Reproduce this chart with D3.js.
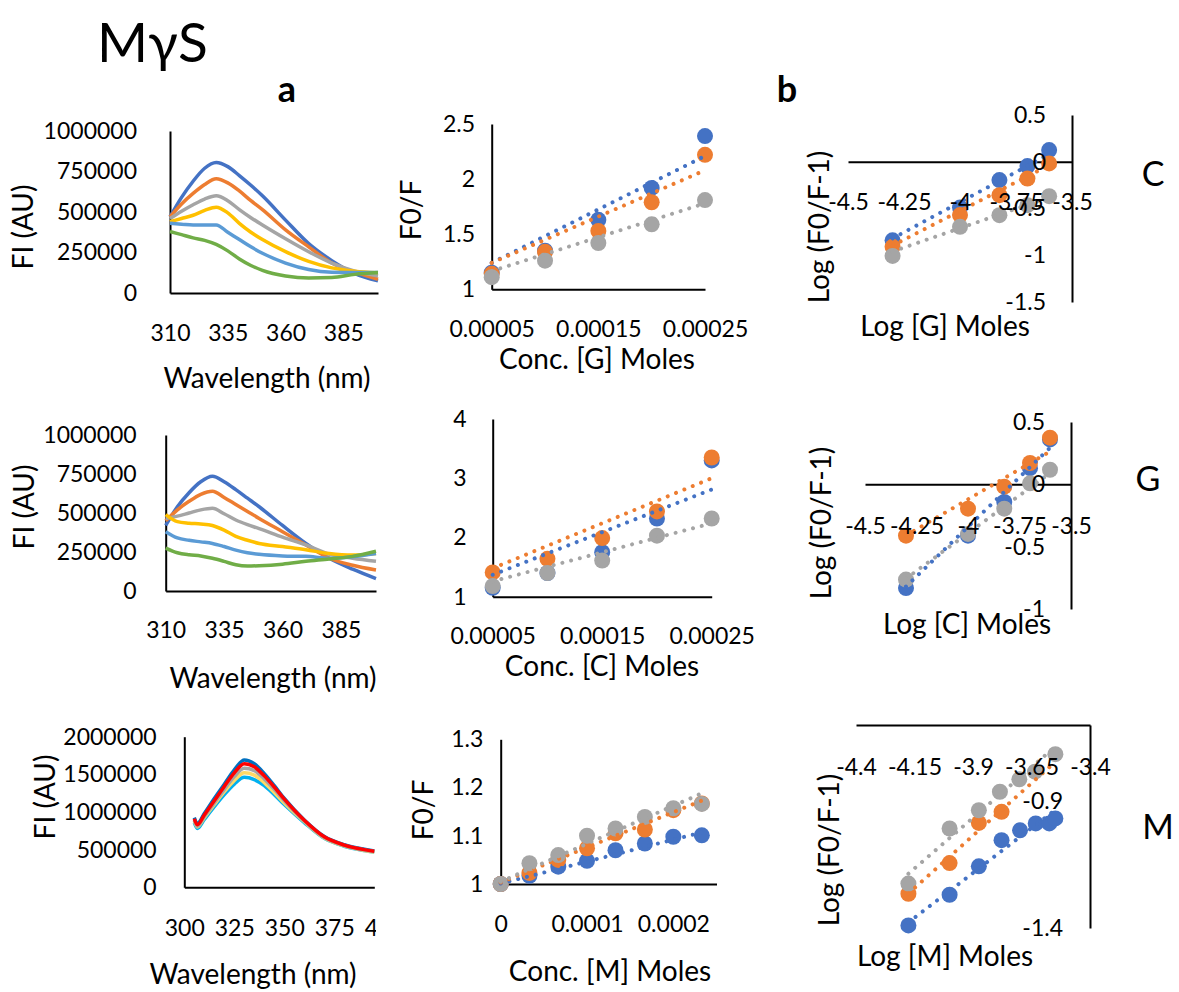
<!DOCTYPE html>
<html>
<head>
<meta charset="utf-8">
<script src="https://cdnjs.cloudflare.com/ajax/libs/d3/7.8.5/d3.min.js"></script>
<style>
body { margin: 0; background: #fff; }
svg text { font-family: Lato, "Noto Sans", sans-serif; fill: #000; }
.axis path { stroke: #000; stroke-width: 2; }
.axis text { font-size: 23px; font-family: Lato, "Noto Sans", sans-serif; }
.title { font-size: 28px; }
.trend { fill: none; stroke-width: 4; stroke-linecap: round; stroke-dasharray: 0.01 9; }
</style>
</head>
<body>
<script>
// spectra, G titration
var waveG = [310, 315, 320, 325, 330, 335, 340, 345, 350, 360, 370, 380, 390, 400];
var fiG1 = [470000, 590000, 690000, 770000, 805000, 780000, 725000, 665000, 600000, 450000, 305000, 200000, 120000, 75000];
var fiG2 = [470000, 550000, 615000, 670000, 705000, 680000, 630000, 570000, 515000, 390000, 285000, 185000, 130000, 85000];
var fiG3 = [460000, 505000, 545000, 580000, 600000, 570000, 515000, 465000, 420000, 335000, 255000, 185000, 135000, 105000];
var fiG4 = [440000, 460000, 480000, 510000, 530000, 495000, 430000, 375000, 330000, 255000, 195000, 155000, 135000, 125000];
var fiG5 = [430000, 425000, 420000, 420000, 420000, 375000, 330000, 285000, 245000, 185000, 145000, 128000, 126000, 126000];
var fiG6 = [380000, 360000, 340000, 325000, 300000, 260000, 210000, 170000, 140000, 105000, 92000, 95000, 115000, 126000];

// spectra, C titration
var waveC = [310, 315, 320, 325, 330, 335, 340, 345, 350, 360, 370, 380, 390, 400];
var fiC1 = [420000, 540000, 630000, 700000, 735000, 700000, 650000, 595000, 540000, 420000, 305000, 210000, 140000, 80000];
var fiC2 = [450000, 520000, 575000, 620000, 640000, 600000, 555000, 510000, 465000, 380000, 295000, 210000, 165000, 135000];
var fiC3 = [465000, 480000, 500000, 520000, 530000, 495000, 455000, 425000, 400000, 345000, 295000, 235000, 210000, 190000];
var fiC4 = [490000, 445000, 435000, 430000, 420000, 390000, 350000, 325000, 305000, 285000, 265000, 240000, 230000, 240000];
var fiC5 = [380000, 340000, 325000, 315000, 305000, 285000, 262000, 245000, 235000, 225000, 222000, 210000, 220000, 240000];
var fiC6 = [275000, 245000, 232000, 225000, 210000, 190000, 168000, 160000, 162000, 172000, 190000, 205000, 222000, 255000];

// spectra, M titration
var waveM = [305, 306.5, 310, 315, 320, 325, 330, 335, 340, 345, 350, 360, 370, 380, 390, 395];
var fiM1 = [925000, 845000, 980000, 1180000, 1370000, 1560000, 1690000, 1640000, 1510000, 1350000, 1180000, 895000, 675000, 565000, 505000, 482000];
var fiM2 = [860000, 780000, 900000, 1070000, 1230000, 1370000, 1460000, 1430000, 1350000, 1230000, 1100000, 860000, 650000, 545000, 488000, 468000];
var fiM3 = [880000, 800000, 925000, 1100000, 1270000, 1420000, 1520000, 1490000, 1390000, 1260000, 1120000, 870000, 655000, 550000, 490000, 470000];
var fiM4 = [890000, 810000, 940000, 1120000, 1300000, 1470000, 1580000, 1550000, 1440000, 1300000, 1150000, 880000, 660000, 555000, 495000, 475000];
var fiM5 = [910000, 830000, 960000, 1150000, 1340000, 1520000, 1640000, 1600000, 1480000, 1330000, 1170000, 890000, 670000, 560000, 500000, 480000];

// Stern-Volmer, G and C
var concGC = [0.00005, 0.0001, 0.00015, 0.0002, 0.00025];
var f0fG1 = [1.15, 1.35, 1.63, 1.92, 2.39];
var f0fG2 = [1.14, 1.34, 1.53, 1.79, 2.22];
var f0fG3 = [1.11, 1.26, 1.42, 1.59, 1.81];
var trendG = [[1.24, 2.21], [1.24, 2.08], [1.165, 1.78]];
var f0fC1 = [1.15, 1.40, 1.75, 2.32, 3.30];
var f0fC2 = [1.41, 1.64, 1.99, 2.44, 3.35];
var f0fC3 = [1.18, 1.40, 1.61, 2.03, 2.32];
var trendC = [[1.37, 2.81], [1.48, 3.0], [1.26, 2.24]];

// Stern-Volmer, M
var concM = [0, 0.0000333, 0.0000667, 0.0001, 0.000133, 0.000167, 0.0002, 0.000233];
var f0fM1 = [1.0, 1.017, 1.036, 1.048, 1.070, 1.084, 1.098, 1.101];
var f0fM2 = [1.0, 1.023, 1.05, 1.074, 1.105, 1.113, 1.153, 1.167];
var f0fM3 = [1.0, 1.043, 1.06, 1.10, 1.115, 1.139, 1.157, 1.166];
var trendM = [[1.001, 1.107], [1.003, 1.173], [1.005, 1.188]];

// double log, G and C
var logGC = [-4.301, -4, -3.824, -3.699, -3.602];
var logG1 = [-0.84, -0.49, -0.196, -0.046, 0.125];
var logG2 = [-0.91, -0.57, -0.357, -0.18, -0.018];
var logG3 = [-1.007, -0.696, -0.571, -0.464, -0.368];
var logTrendG = [[-0.82, 0.08], [-0.896, -0.036], [-0.96, -0.38]];
var logC1 = [-0.832, -0.412, -0.141, 0.13, 0.36];
var logC2 = [-0.412, -0.195, -0.019, 0.171, 0.374];
var logC3 = [-0.764, -0.398, -0.195, 0.008, 0.117];
var logTrendC = [[-0.82, 0.293], [-0.41, 0.263], [-0.756, 0.09]];

// double log, M
var logMx1 = [-4.176, -4.0, -3.875, -3.778, -3.699, -3.632, -3.574, -3.548];
var logM1 = [-1.39, -1.269, -1.157, -1.054, -1.015, -0.988, -0.988, -0.968];
var logMx2 = [-4.176, -4.0, -3.875, -3.778];
var logM2 = [-1.265, -1.144, -0.986, -0.942];
var logMx3 = [-4.176, -4.0, -3.875, -3.785, -3.702, -3.635, -3.548];
var logM3 = [-1.225, -1.008, -0.936, -0.863, -0.814, -0.784, -0.715];
var logTrendMx = [-4.176, -3.548];
var logTrendM = [[-1.378, -0.934], [-1.264, -0.745], [-1.186, -0.685]];

var colors6 = ["#4472C4", "#ED7D31", "#A5A5A5", "#FFC000", "#5B9BD5", "#70AD47"];
var colorsM = ["#0070C0", "#00B0F0", "#FFD966", "#A5A5A5", "#FF0000"];
var colors3 = ["#4472C4", "#ED7D31", "#A5A5A5"];

var svg = d3.select("body").append("svg")
    .attr("width", 1179)
    .attr("height", 992);

svg.append("defs").append("clipPath")
    .attr("id", "clipM")
    .append("rect")
    .attr("x", 0).attr("y", 0)
    .attr("width", 376).attr("height", 992);

// axis line goes in the back layer, tick labels on top of the marks
function axisPair(back, front, axis, transform, clip) {
    back.append("g").attr("class", "axis")
        .attr("transform", transform)
        .call(axis)
        .call(function (g) { g.selectAll(".tick").remove(); });
    var f = front.append("g").attr("class", "axis")
        .attr("transform", transform)
        .call(axis)
        .call(function (g) { g.select(".domain").remove(); });
    if (clip) f.attr("clip-path", "url(#" + clip + ")");
}

function addTitle(g, txt, cx, cy, rotate) {
    var t = g.append("text")
        .attr("class", "title")
        .attr("text-anchor", "middle")
        .attr("dominant-baseline", "central")
        .text(txt);
    if (rotate) t.attr("transform", "translate(" + cx + "," + cy + ") rotate(-90)");
    else t.attr("x", cx).attr("y", cy);
}

function spectra(p) {
    var x = d3.scaleLinear().domain(p.xDom).range(p.xRng);
    var y = d3.scaleLinear().domain(p.yDom).range(p.yRng);
    var back = svg.append("g"), mid = svg.append("g"), front = svg.append("g");

    axisPair(back, front, d3.axisBottom(x).tickValues(p.xTicks).tickSize(0)
        .tickPadding(p.xPad).tickFormat(String), "translate(0," + p.yRng[0] + ")", p.clip);
    axisPair(back, front, d3.axisLeft(y).tickValues(p.yTicks).tickSize(0)
        .tickPadding(p.yPad).tickFormat(String), "translate(" + p.xRng[0] + ",0)");

    var line = d3.line()
        .x(function (d) { return x(d[0]); })
        .y(function (d) { return y(d[1]); })
        .curve(d3.curveMonotoneX);

    p.series.forEach(function (s, i) {
        mid.append("path")
            .datum(d3.zip(p.wave, s))
            .attr("fill", "none")
            .attr("stroke", p.colors[i])
            .attr("stroke-width", 3.5)
            .attr("stroke-linejoin", "round")
            .attr("d", line);
    });

    addTitle(front, "Wavelength (nm)", p.xTitle[0], p.xTitle[1]);
    addTitle(front, "FI (AU)", p.yTitle[0], p.yTitle[1], true);
}

function scatter(p) {
    var x = d3.scaleLinear().domain(p.xDom).range(p.xRng);
    var y = d3.scaleLinear().domain(p.yDom).range(p.yRng);
    var back = svg.append("g"), mid = svg.append("g"), front = svg.append("g");

    axisPair(back, front, d3.axisBottom(x).tickValues(p.xTicks).tickSize(0)
        .tickPadding(p.xPad).tickFormat(String), "translate(0," + y(p.xCross) + ")");
    axisPair(back, front, d3.axisLeft(y).tickValues(p.yTicks).tickSize(0)
        .tickPadding(p.yPad).tickFormat(String), "translate(" + x(p.yCross) + ",0)");

    p.ys.forEach(function (s, i) {
        mid.selectAll(null)
            .data(d3.zip(p.xs[i], s))
            .enter().append("circle")
            .attr("cx", function (d) { return x(d[0]); })
            .attr("cy", function (d) { return y(d[1]); })
            .attr("r", 8)
            .attr("fill", colors3[i]);
    });

    var line = d3.line()
        .x(function (d) { return x(d[0]); })
        .y(function (d) { return y(d[1]); });

    p.trends.forEach(function (t, i) {
        mid.append("path")
            .datum(d3.zip(p.trendX, t))
            .attr("class", "trend")
            .attr("stroke", colors3[i])
            .attr("d", line);
    });

    addTitle(front, p.xLabel, p.xTitle[0], p.xTitle[1]);
    if (p.yLabel) addTitle(front, p.yLabel, p.yTitle[0], p.yTitle[1], true);
}

// column a: spectra
spectra({
    wave: waveG, series: [fiG1, fiG2, fiG3, fiG4, fiG5, fiG6], colors: colors6,
    xDom: [310, 400], xRng: [170, 378], yDom: [0, 1000000], yRng: [293, 131],
    xTicks: [310, 335, 360, 385], yTicks: [0, 250000, 500000, 750000, 1000000],
    xPad: 32, yPad: 33, xTitle: [267, 377], yTitle: [22, 227]
});
spectra({
    wave: waveC, series: [fiC1, fiC2, fiC3, fiC4, fiC5, fiC6], colors: colors6,
    xDom: [310, 400], xRng: [165.7, 376], yDom: [0, 1000000], yRng: [591, 435],
    xTicks: [310, 335, 360, 385], yTicks: [0, 250000, 500000, 750000, 1000000],
    xPad: 31, yPad: 29, xTitle: [273, 677], yTitle: [23, 507]
});
spectra({
    wave: waveM, series: [fiM1, fiM2, fiM3, fiM4, fiM5], colors: colorsM,
    xDom: [300, 395], xRng: [184.3, 374.3], yDom: [0, 2000000], yRng: [887.3, 736.7],
    xTicks: [300, 325, 350, 375, 400], yTicks: [0, 500000, 1000000, 1500000, 2000000],
    xPad: 32, yPad: 27.6, xTitle: [253, 973], yTitle: [43.5, 797], clip: "clipM"
});

// column a: F0/F
scatter({
    xs: [concGC, concGC, concGC], ys: [f0fG1, f0fG2, f0fG3],
    trendX: [0.00005, 0.00025], trends: trendG,
    xDom: [0.00005, 0.00025], xRng: [491.7, 705], yDom: [1, 2.5], yRng: [289.3, 124],
    xCross: 1, yCross: 0.00005,
    xTicks: [0.00005, 0.00015, 0.00025], yTicks: [1, 1.5, 2, 2.5],
    xPad: 31, yPad: 16.7, xLabel: "Conc. [G] Moles", xTitle: [597, 358],
    yLabel: "F0/F", yTitle: [410, 210]
});
scatter({
    xs: [concGC, concGC, concGC], ys: [f0fC1, f0fC2, f0fC3],
    trendX: [0.00005, 0.00025], trends: trendC,
    xDom: [0.00005, 0.00025], xRng: [492.7, 711.7], yDom: [1, 4], yRng: [596.7, 419],
    xCross: 1, yCross: 0.00005,
    xTicks: [0.00005, 0.00015, 0.00025], yTicks: [1, 2, 3, 4],
    xPad: 31, yPad: 26, xLabel: "Conc. [C] Moles", xTitle: [602, 665]
});
scatter({
    xs: [concM, concM, concM], ys: [f0fM1, f0fM2, f0fM3],
    trendX: [0, 0.000233], trends: trendM,
    xDom: [0, 0.00025], xRng: [500.7, 716.5], yDom: [1, 1.3], yRng: [884, 739.3],
    xCross: 1, yCross: 0,
    xTicks: [0, 0.0001, 0.0002], yTicks: [1, 1.1, 1.2, 1.3],
    xPad: 32, yPad: 17.4, xLabel: "Conc. [M] Moles", xTitle: [610, 970],
    yLabel: "F0/F", yTitle: [422, 810]
});

// column b: double log
scatter({
    xs: [logGC, logGC, logGC], ys: [logG1, logG2, logG3],
    trendX: [-4.301, -3.602], trends: logTrendG,
    xDom: [-4.5, -3.5], xRng: [848, 1072], yDom: [-1.5, 0.5], yRng: [302, 115],
    xCross: 0, yCross: -3.5,
    xTicks: [-4.5, -4.25, -4, -3.75, -3.5], yTicks: [-1.5, -1, -0.5, 0, 0.5],
    xPad: 32, yPad: 26, xLabel: "Log [G] Moles", xTitle: [945, 325],
    yLabel: "Log (F0/F-1)", yTitle: [818, 227]
});
scatter({
    xs: [logGC, logGC, logGC], ys: [logC1, logC2, logC3],
    trendX: [-4.301, -3.602], trends: logTrendC,
    xDom: [-4.5, -3.5], xRng: [865, 1071], yDom: [-1, 0.5], yRng: [609, 422],
    xCross: 0, yCross: -3.5,
    xTicks: [-4.5, -4.25, -4, -3.75, -3.5], yTicks: [-1, -0.5, 0, 0.5],
    xPad: 33, yPad: 26, xLabel: "Log [C] Moles", xTitle: [967, 623],
    yLabel: "Log (F0/F-1)", yTitle: [820, 523]
});
scatter({
    xs: [logMx1, logMx2, logMx3], ys: [logM1, logM2, logM3],
    trendX: logTrendMx, trends: logTrendM,
    xDom: [-4.4, -3.4], xRng: [856, 1090], yDom: [-1.4, -0.6], yRng: [928, 725],
    xCross: -0.6, yCross: -3.4,
    xTicks: [-4.4, -4.15, -3.9, -3.65, -3.4], yTicks: [-1.4, -0.9],
    xPad: 34, yPad: 27, xLabel: "Log [M] Moles", xTitle: [945, 955],
    yLabel: "Log (F0/F-1)", yTitle: [828, 850]
});

// headings and row letters
svg.append("text")
    .attr("x", 97).attr("y", 62)
    .style("font-size", "55px")
    .text("MγS");

svg.append("text")
    .attr("x", 287).attr("y", 102)
    .attr("text-anchor", "middle")
    .style("font-size", "36px").style("font-weight", "bold")
    .text("a");

svg.append("text")
    .attr("x", 787).attr("y", 102)
    .attr("text-anchor", "middle")
    .style("font-size", "36px").style("font-weight", "bold")
    .text("b");

[["C", 1153, 172], ["G", 1148, 477], ["M", 1158, 825]].forEach(function (d) {
    svg.append("text")
        .attr("x", d[1]).attr("y", d[2])
        .attr("text-anchor", "middle")
        .attr("dominant-baseline", "central")
        .style("font-size", "34px")
        .text(d[0]);
});
</script>
</body>
</html>
